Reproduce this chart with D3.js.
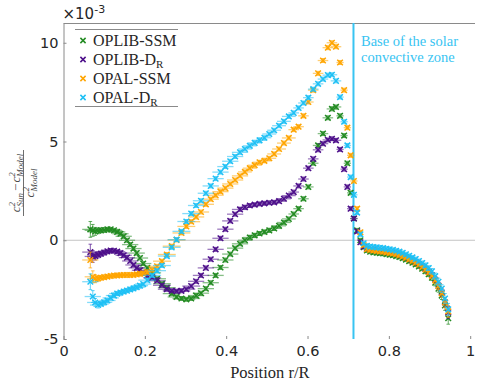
<!DOCTYPE html>
<html>
<head>
<meta charset="utf-8">
<script src="https://cdn.jsdelivr.net/npm/d3@7"></script>
<style>
  body { margin: 0; background: #fff; }
  svg { display: block; }
  .tick text { font-family: "DejaVu Sans", sans-serif; font-size: 14.5px; fill: #262626; }
  text.serif, g.serif text { font-family: "Liberation Serif", "DejaVu Serif", serif; }
</style>
</head>
<body>
<div id="vis"></div>
<script>
'use strict';

// Target radii of the inversion (shared by all four series)
const rGrid = [
  0.066, 0.072, 0.078, 0.085, 0.092, 0.1, 0.108, 0.116, 0.124, 0.132, 0.14, 0.148, 0.156, 0.164, 0.172, 0.18, 0.188, 0.196,
  0.206, 0.218, 0.23, 0.242, 0.254, 0.266, 0.278, 0.29, 0.302, 0.314,
  0.326, 0.338, 0.35, 0.362, 0.374, 0.386, 0.398, 0.41, 0.422, 0.434,
  0.446, 0.458, 0.47, 0.482, 0.494, 0.506, 0.518, 0.53, 0.542, 0.554,
  0.566, 0.578, 0.59, 0.602, 0.614, 0.626, 0.638, 0.65, 0.66, 0.67,
  0.68, 0.69, 0.698, 0.706, 0.714,
  0.722, 0.73, 0.738, 0.746, 0.754, 0.762, 0.77, 0.778, 0.786, 0.794,
  0.802, 0.81, 0.818, 0.826, 0.834, 0.842, 0.85, 0.858, 0.866, 0.874,
  0.882, 0.89, 0.898, 0.906, 0.914, 0.922, 0.93, 0.938, 0.946
];

// horizontal (kernel width) and vertical error half-widths
const xErr = [
  0.02, 0.02, 0.02, 0.02, 0.02, 0.02, 0.02, 0.02, 0.02, 0.02, 0.02, 0.02, 0.02, 0.02, 0.02, 0.02, 0.02, 0.02,
  0.022, 0.022, 0.022, 0.022, 0.022, 0.022, 0.022, 0.022, 0.022, 0.022,
  0.02, 0.02, 0.02, 0.02, 0.02, 0.02, 0.02, 0.02, 0.02, 0.02,
  0.017, 0.017, 0.017, 0.017, 0.017, 0.017, 0.017, 0.017, 0.017, 0.017,
  0.013, 0.013, 0.013, 0.013, 0.013, 0.013, 0.013, 0.013, 0.013, 0.013,
  0.009, 0.009, 0.009, 0.009, 0.009,
  0.004, 0.004, 0.004, 0.004, 0.004, 0.004, 0.004, 0.004, 0.004, 0.004,
  0.004, 0.004, 0.004, 0.004, 0.004, 0.004, 0.004, 0.004, 0.004, 0.004,
  0.004, 0.004, 0.004, 0.004, 0.004, 0.004, 0.004, 0.004, 0.004
];
const yErr = [
  0.4, 0.3, 0.2, 0.15, 0.12, 0.12, 0.1, 0.1, 0.1, 0.1, 0.1, 0.1, 0.1, 0.1, 0.1, 0.1, 0.1, 0.1,
  0.1, 0.1, 0.1, 0.1, 0.1, 0.1, 0.1, 0.1, 0.1, 0.1,
  0.1, 0.1, 0.1, 0.1, 0.1, 0.1, 0.1, 0.1, 0.1, 0.1,
  0.1, 0.1, 0.1, 0.1, 0.1, 0.1, 0.1, 0.1, 0.1, 0.1,
  0.1, 0.1, 0.1, 0.1, 0.1, 0.1, 0.1, 0.1, 0.1, 0.1,
  0.1, 0.1, 0.1, 0.1, 0.1,
  0.1, 0.1, 0.1, 0.1, 0.1, 0.1, 0.1, 0.1, 0.1, 0.1,
  0.1, 0.1, 0.1, 0.1, 0.1, 0.1, 0.1, 0.1, 0.1, 0.1,
  0.1, 0.12, 0.12, 0.14, 0.16, 0.18, 0.2, 0.25, 0.3
];

// relative squared sound speed differences, units of 1e-3
const oplibSSM = [
  0.55, 0.5, 0.45, 0.48, 0.5, 0.52, 0.55, 0.55, 0.5, 0.42, 0.33, 0.2, 0.0, -0.22, -0.42, -0.65, -0.9, -1.18,
  -1.4, -1.65, -1.95, -2.2, -2.4, -2.7, -2.87, -2.95, -2.99, -2.95,
  -2.8, -2.68, -2.45, -2.15, -1.78, -1.38, -1.0, -0.7, -0.4, -0.18,
  0.0, 0.14, 0.25, 0.34, 0.42, 0.5, 0.6, 0.73, 0.9, 1.08,
  1.33, 1.6, 2.1, 2.7, 3.9, 4.8, 5.4, 6.2, 6.65, 6.75,
  6.3, 5.3, 3.9, 2.4, 1.1,
  0.5, 0.0, -0.35, -0.52, -0.58, -0.61, -0.63, -0.65, -0.67, -0.7,
  -0.73, -0.76, -0.8, -0.85, -0.91, -0.98, -1.06, -1.14, -1.23, -1.33,
  -1.44, -1.57, -1.72, -1.9, -2.15, -2.45, -2.8, -3.3, -3.95
];
const oplibDR = [
  -0.6, -0.82, -0.8, -0.74, -0.68, -0.62, -0.56, -0.52, -0.53, -0.58, -0.65, -0.76, -0.88, -1.05, -1.25, -1.4, -1.52, -1.66,
  -1.78, -1.9, -2.05, -2.28, -2.48, -2.56, -2.58, -2.56, -2.48, -2.32,
  -2.08, -1.78, -1.4, -0.96, -0.46, 0.1, 0.56, 0.98, 1.32, 1.56,
  1.67, 1.76, 1.8, 1.84, 1.87, 1.9, 1.92, 1.98, 2.1, 2.26,
  2.44, 2.75, 3.1, 3.65, 4.12, 4.58, 4.89, 5.08, 5.14, 5.06,
  4.6, 3.6, 2.7, 1.6, 1.1,
  0.45, -0.1, -0.32, -0.43, -0.47, -0.5, -0.52, -0.54, -0.56, -0.59,
  -0.62, -0.65, -0.69, -0.74, -0.8, -0.87, -0.95, -1.03, -1.12, -1.22,
  -1.33, -1.45, -1.6, -1.77, -2.0, -2.3, -2.65, -3.15, -3.65
];
const opalSSM = [
  -1.0, -1.85, -1.95, -1.93, -1.9, -1.87, -1.84, -1.81, -1.79, -1.78, -1.77, -1.76, -1.76, -1.76, -1.75, -1.73, -1.7, -1.68,
  -1.62, -1.5, -1.32, -1.06, -0.72, -0.3, 0.02, 0.37, 0.7, 0.94,
  1.18, 1.43, 1.82, 2.08, 2.28, 2.46, 2.64, 2.85, 3.05, 3.26,
  3.46, 3.65, 3.8, 3.95, 4.02, 4.15, 4.37, 4.62, 4.92, 5.18,
  5.6, 5.75, 6.3, 7.0, 7.6, 8.45, 9.1, 9.75, 10.0, 9.8,
  9.0, 7.6, 5.7, 4.3, 3.0,
  1.6, 0.4, -0.25, -0.45, -0.49, -0.52, -0.54, -0.56, -0.58, -0.61,
  -0.64, -0.67, -0.71, -0.76, -0.82, -0.89, -0.97, -1.05, -1.14, -1.24,
  -1.35, -1.48, -1.63, -1.8, -2.03, -2.32, -2.68, -3.15, -3.6
];
const opalDR = [
  -2.1, -2.85, -3.15, -3.28, -3.22, -3.14, -3.05, -2.92, -2.8, -2.7, -2.65, -2.6, -2.55, -2.49, -2.44, -2.38, -2.3, -2.22,
  -2.02, -1.78, -1.54, -1.28, -0.8, -0.36, 0.03, 0.45, 0.95, 1.35,
  1.76, 2.0, 2.38, 2.75, 3.12, 3.45, 3.73, 4.0, 4.24, 4.45,
  4.62, 4.78, 4.93, 5.06, 5.19, 5.38, 5.57, 5.8, 6.02, 6.27,
  6.45, 6.7, 6.95, 7.22, 7.65, 7.92, 8.16, 8.36, 8.38, 8.07,
  7.25, 6.0, 4.8, 3.2, 2.3,
  1.4, 0.3, -0.15, -0.28, -0.32, -0.34, -0.36, -0.38, -0.4, -0.43,
  -0.46, -0.49, -0.53, -0.58, -0.64, -0.71, -0.79, -0.87, -0.95, -1.05,
  -1.15, -1.27, -1.41, -1.57, -1.82, -2.1, -2.45, -2.95, -3.5
];

const seriesNames = ['OPLIB-SSM', 'OPLIB-D', 'OPAL-SSM', 'OPAL-D'];
const seriesSubs = ['', 'R', '', 'R'];
const seriesValues = [oplibSSM, oplibDR, opalSSM, opalDR];
const seriesColors = ['#238b22', '#4d0f8a', '#ffa500', '#1ec0f5'];

const xTicks = [0, 0.2, 0.4, 0.6, 0.8, 1];
const yTicks = [-5, 0, 5, 10];
const baseCZ = 0.713;

const width = 491;
const height = 383;
const plotLeft = 63.5, plotRight = 470.2, plotTop = 23, plotBottom = 339;
const serifFont = '"Liberation Serif", "DejaVu Serif", serif';

const svg = d3.select('#vis').append('svg')
  .attr('width', width)
  .attr('height', height);

const x = d3.scaleLinear().domain([0, 1]).range([plotLeft, plotRight]);
const y = d3.scaleLinear().domain([-5, 11]).range([plotBottom, plotTop]);

// zero line and top frame
svg.append('line')
  .attr('x1', plotLeft).attr('x2', 475)
  .attr('y1', y(0)).attr('y2', y(0))
  .attr('stroke', '#c4c4c4').attr('stroke-width', 1);
svg.append('line')
  .attr('x1', plotLeft).attr('x2', 475)
  .attr('y1', plotTop + 0.5).attr('y2', plotTop + 0.5)
  .attr('stroke', '#8a8a8a').attr('stroke-width', 1);

// axes, ticks pointing inward
const xAxis = svg.append('g')
  .attr('transform', `translate(0,${plotBottom})`)
  .call(d3.axisBottom(x).tickValues(xTicks).tickSize(-3).tickPadding(7)
    .tickFormat(d => d === 0 || d === 1 ? String(d) : d3.format('.1f')(d)));
xAxis.select('.domain').remove();
xAxis.selectAll('.tick line').attr('stroke', '#8a8a8a');

const yAxis = svg.append('g')
  .attr('transform', `translate(${plotLeft},0)`)
  .call(d3.axisLeft(y).tickValues(yTicks).tickSize(-3).tickPadding(5)
    .tickFormat(d => String(d)));
yAxis.select('.domain').attr('stroke', '#8a8a8a');
yAxis.selectAll('.tick line').attr('stroke', '#8a8a8a');

// exponent label
const expo = svg.append('text')
  .attr('x', plotLeft - 1).attr('y', 19)
  .style('font-family', '"DejaVu Sans", sans-serif')
  .style('font-size', '15px')
  .attr('fill', '#262626');
expo.append('tspan').text('\u00d710');
expo.append('tspan').attr('dy', -6).style('font-size', '11px').text('-3');

// base of the convective zone
svg.append('line')
  .attr('x1', x(baseCZ)).attr('x2', x(baseCZ))
  .attr('y1', plotTop).attr('y2', plotBottom)
  .attr('stroke', '#38c4f2').attr('stroke-width', 2);
['Base of the solar', 'convective zone'].forEach(function (line, i) {
  svg.append('text')
    .attr('x', 361).attr('y', 46 + i * 16)
    .attr('fill', '#38c4f2')
    .style('font-family', serifFont)
    .style('font-size', '14.5px')
    .text(line);
});

// data: error bars then crosses
seriesValues.forEach(function (vals, s) {
  const color = seriesColors[s];
  const g = svg.append('g');
  const pts = rGrid.map(function (r, i) {
    return { r: r, v: vals[i], xe: xErr[i], ye: yErr[i] };
  });

  g.selectAll('line.hbar').data(pts).enter().append('line')
    .attr('class', 'hbar')
    .attr('x1', d => x(d.r - d.xe)).attr('x2', d => x(d.r + d.xe))
    .attr('y1', d => y(d.v)).attr('y2', d => y(d.v))
    .attr('stroke', color).attr('stroke-opacity', 0.55).attr('stroke-width', 1.3);

  g.selectAll('path.vbar').data(pts).enter().append('path')
    .attr('class', 'vbar')
    .attr('d', function (d) {
      const cx = x(d.r), y1 = y(d.v - d.ye), y2 = y(d.v + d.ye);
      return `M${cx},${y1}V${y2}M${cx - 1.8},${y1}H${cx + 1.8}M${cx - 1.8},${y2}H${cx + 1.8}`;
    })
    .attr('fill', 'none')
    .attr('stroke', color).attr('stroke-opacity', 0.7).attr('stroke-width', 1);

  g.selectAll('path.mark').data(pts).enter().append('path')
    .attr('class', 'mark')
    .attr('d', function (d) {
      const cx = x(d.r), cy = y(d.v), k = 2.8;
      return `M${cx - k},${cy - k}L${cx + k},${cy + k}M${cx - k},${cy + k}L${cx + k},${cy - k}`;
    })
    .attr('fill', 'none')
    .attr('stroke', color).attr('stroke-width', 1.5);
});

// legend
const legend = svg.append('g');
legend.append('line')
  .attr('x1', 75).attr('x2', 178).attr('y1', 29.5).attr('y2', 29.5)
  .attr('stroke', '#8a8a8a');
legend.append('line')
  .attr('x1', 75).attr('x2', 178).attr('y1', 106.5).attr('y2', 106.5)
  .attr('stroke', '#8a8a8a');
seriesNames.forEach(function (name, s) {
  const cy = 40.5 + s * 19;
  const k = 2.6;
  legend.append('path')
    .attr('d', `M${83 - k},${cy - k}L${83 + k},${cy + k}M${83 - k},${cy + k}L${83 + k},${cy - k}`)
    .attr('stroke', seriesColors[s]).attr('stroke-width', 1.5);
  const t = legend.append('text')
    .attr('x', 93).attr('y', cy + 5.5)
    .attr('fill', '#262626')
    .style('font-family', serifFont)
    .style('font-size', '16px')
    .text(name);
  if (seriesSubs[s]) {
    t.append('tspan').attr('dy', 3).style('font-size', '11px').text(seriesSubs[s]);
  }
});

// x label
svg.append('text')
  .attr('x', (plotLeft + plotRight) / 2 + 3).attr('y', 378)
  .attr('text-anchor', 'middle')
  .attr('fill', '#262626')
  .style('font-family', serifFont)
  .style('font-size', '16.5px')
  .text('Position r/R');

// y label: (c2_Sun - c2_Model) / c2_Model, rotated
const yl = svg.append('g')
  .attr('transform', 'translate(23,183) rotate(-90)')
  .attr('fill', '#4a4a4a')
  .style('font-family', serifFont)
  .style('font-style', 'italic');
const num = yl.append('text').attr('x', 0).attr('y', -3.5)
  .attr('text-anchor', 'middle').style('font-size', '13px');
num.append('tspan').text('c');
num.append('tspan').attr('dy', -5).style('font-size', '9px').text('2');
num.append('tspan').attr('dx', -4.5).attr('dy', 8).style('font-size', '9px').text('Sun');
num.append('tspan').attr('dx', 2).attr('dy', -3).style('font-style', 'normal').text('\u2212');
num.append('tspan').attr('dx', 1).text('c');
num.append('tspan').attr('dy', -5).style('font-size', '9px').text('2');
num.append('tspan').attr('dx', -4.5).attr('dy', 8).style('font-size', '9px').text('Model');
yl.append('line').attr('x1', -33).attr('x2', 33).attr('y1', 0.5).attr('y2', 0.5)
  .attr('stroke', '#4a4a4a').attr('stroke-width', 0.8);
const den = yl.append('text').attr('x', 0).attr('y', 11)
  .attr('text-anchor', 'middle').style('font-size', '13px');
den.append('tspan').text('c');
den.append('tspan').attr('dy', -5).style('font-size', '9px').text('2');
den.append('tspan').attr('dx', -4.5).attr('dy', 8).style('font-size', '9px').text('Model');
</script>
</body>
</html>
